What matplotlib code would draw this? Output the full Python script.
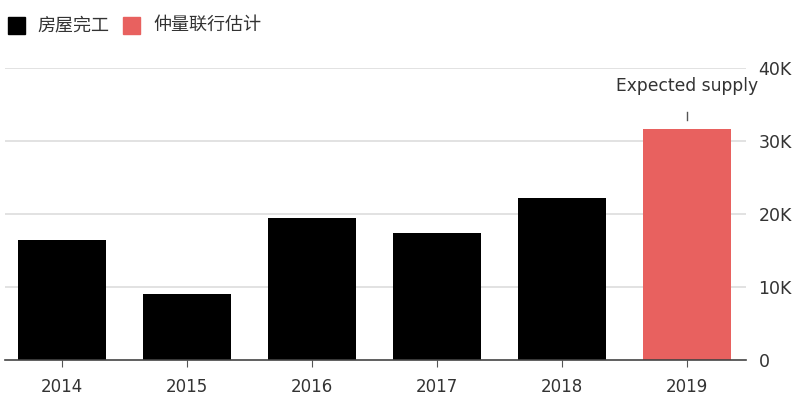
import matplotlib
matplotlib.use("Agg")
import matplotlib.pyplot as plt
from matplotlib.patches import Rectangle

plt.rcParams['font.family'] = ['Noto Sans CJK SC', 'DejaVu Sans']

years = ['2014', '2015', '2016', '2017', '2018', '2019']
completions = [16400, 9000, 19500, 17400, 22200, None]
estimate = [None, None, None, None, None, 31600]
yticks = [0, 10000, 20000, 30000, 40000]
ytick_labels = ['0', '10K', '20K', '30K', '40K']
legend_labels = ['房屋完工', '仲量联行估计']
annotation = 'Expected supply'

black = '#000000'
red = '#e8615f'
grid = '#dddddd'
text_c = '#333333'

fig = plt.figure(figsize=(8, 4.09), dpi=100)
ax = fig.add_axes([5/800, (409-360)/409, (746-5)/800, (360-68)/409])

x = list(range(len(years)))
for i, v in enumerate(completions):
    if v is not None:
        ax.bar(i, v, width=0.7, color=black, zorder=3)
for i, v in enumerate(estimate):
    if v is not None:
        ax.bar(i, v, width=0.7, color=red, zorder=3)
        ax.annotate(annotation, xy=(i, v), xytext=(0, 31), textcoords='offset points',
                    ha='center', va='center', fontsize=12.3, color=text_c,
                    family=['DejaVu Sans'])
        ax.plot([i, i], [v + 1300, v + 2400], color='#555555', lw=1, zorder=3)

ax.set_xlim(-0.456, 5.47)
ax.set_ylim(0, 40000)
ax.set_xticks(x)
ax.set_xticklabels(years, fontsize=12, color=text_c, family=['DejaVu Sans'])
ax.tick_params(axis='x', length=5, color='#555555', pad=8)
ax.yaxis.tick_right()
ax.set_yticks(yticks)
ax.set_yticklabels(ytick_labels, fontsize=12.5, color=text_c, family=['DejaVu Sans'])
ax.tick_params(axis='y', length=0, pad=9)
for t in yticks[1:]:
    ax.axhline(t, color=grid, lw=1.2, zorder=1)
for s in ['top', 'right', 'left']:
    ax.spines[s].set_visible(False)
ax.spines['bottom'].set_color('#444444')
ax.spines['bottom'].set_linewidth(1.2)
ax.spines['bottom'].set_zorder(4)

# legend
fig.patches.append(Rectangle((8/800, 1-34/409), 17/800, 17/409, transform=fig.transFigure, color=black))
fig.text(37/800, 1-25/409, legend_labels[0], fontsize=13, color=text_c, va='center', ha='left')
fig.patches.append(Rectangle((123/800, 1-34/409), 17/800, 17/409, transform=fig.transFigure, color=red))
fig.text(153/800, 1-25/409, legend_labels[1], fontsize=13, color=text_c, va='center', ha='left')

fig.savefig('out.png', dpi=100)
